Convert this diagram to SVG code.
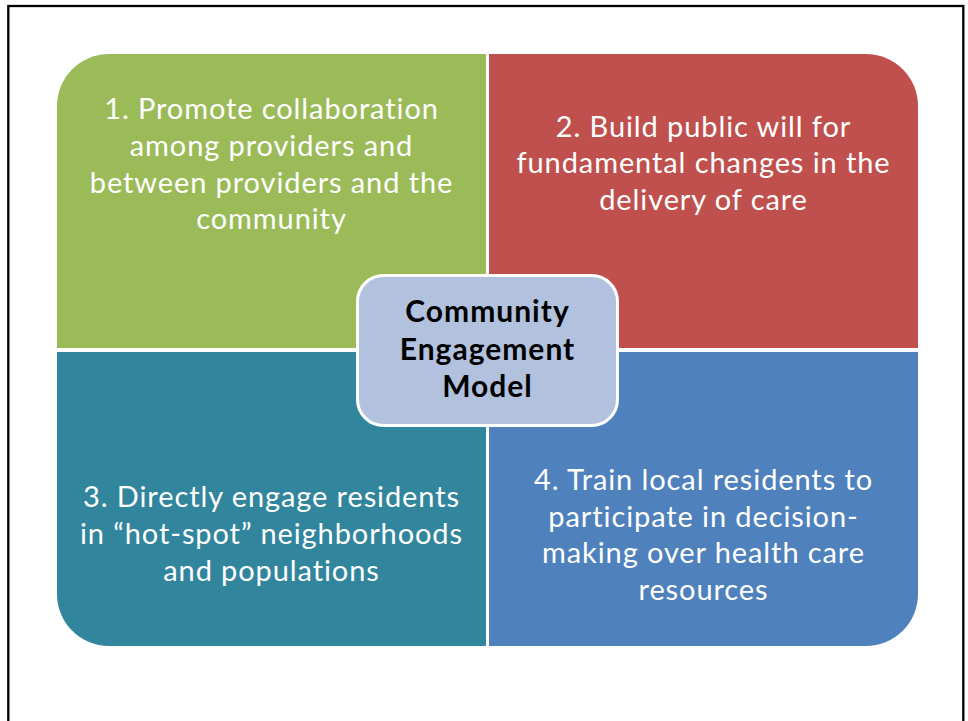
<svg xmlns="http://www.w3.org/2000/svg" width="968" height="721" viewBox="0 0 968 721">
  <style>
    .quad-text { font-family: Lato, "Liberation Sans", sans-serif; font-size: 29px; letter-spacing: 0.9px; fill: #ffffff; text-anchor: middle; }
    .hub-text { font-family: Lato, "Liberation Sans", sans-serif; font-size: 30px; letter-spacing: 1px; font-weight: bold; fill: #000000; text-anchor: middle; }
  </style>
  <rect width="968" height="721" fill="#ffffff"/>
  <!-- slide frame -->
  <rect x="8.3" y="6" width="955" height="800" fill="none" stroke="#000000" stroke-width="2.3"/>

  <g id="quadrant-1">
    <path d="M57,348 V106 A52,52 0 0 1 109,54 H486 V348 Z" fill="#9BBB59"/>
    <text class="quad-text" x="271.5" y="119">1. Promote collaboration</text>
    <text class="quad-text" x="271.5" y="156">among providers and</text>
    <text class="quad-text" x="271.5" y="192.5">between providers and the</text>
    <text class="quad-text" x="271.5" y="229">community</text>
  </g>

  <g id="quadrant-2">
    <path d="M489,54 H866 A52,52 0 0 1 918,106 V348 H489 Z" fill="#C0504D"/>
    <text class="quad-text" x="703.5" y="136.7">2. Build public will for</text>
    <text class="quad-text" x="703.5" y="173.3">fundamental changes in the</text>
    <text class="quad-text" x="703.5" y="210">delivery of care</text>
  </g>

  <g id="quadrant-3">
    <path d="M57,352 H486 V646 H109 A52,52 0 0 1 57,594 Z" fill="#31859C"/>
    <text class="quad-text" x="271.5" y="507.3">3. Directly engage residents</text>
    <text class="quad-text" x="271.5" y="544">in “hot-spot” neighborhoods</text>
    <text class="quad-text" x="271.5" y="580.7">and populations</text>
  </g>

  <g id="quadrant-4">
    <path d="M489,352 H918 V594 A52,52 0 0 1 866,646 H489 Z" fill="#4F81BD"/>
    <text class="quad-text" x="703.5" y="490">4. Train local residents to</text>
    <text class="quad-text" x="703.5" y="526.7">participate in decision-</text>
    <text class="quad-text" x="703.5" y="563.3">making over health care</text>
    <text class="quad-text" x="703.5" y="600">resources</text>
  </g>

  <g id="hub">
    <rect x="357.5" y="275.5" width="260" height="150" rx="26" fill="#B2C2DE" stroke="#ffffff" stroke-width="3"/>
    <text class="hub-text" x="487.5" y="322.3">Community</text>
    <text class="hub-text" x="487.5" y="359.5">Engagement</text>
    <text class="hub-text" x="487.5" y="396.5">Model</text>
  </g>

  <g id="connectors"></g>
</svg>
